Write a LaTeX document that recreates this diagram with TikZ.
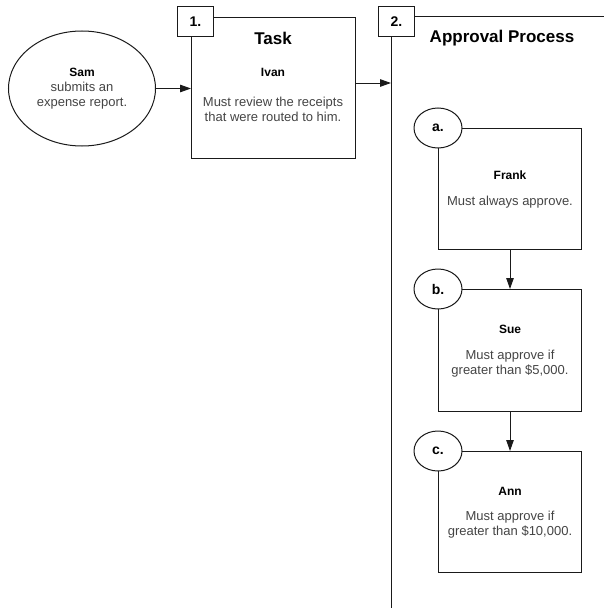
\documentclass[tikz,border=0pt]{standalone}
\usepackage{fontspec}
\setmainfont{Liberation Sans}
\usetikzlibrary{arrows.meta,shapes.geometric}

\definecolor{ink}{HTML}{1A1A1A}
\definecolor{bodytext}{HTML}{444444}

\tikzset{
  edge/.style={draw=ink, line width=1pt},
  flow/.style={edge, -{Triangle[length=11pt,width=7.5pt]}},
  framebox/.style={edge, anchor=north west, inner sep=0pt},
  numbox/.style={edge, fill=white, minimum width=36pt, minimum height=30pt,
    inner sep=0pt, font=\fontsize{14}{16}\selectfont\bfseries},
  letterbadge/.style={edge, ellipse, fill=white, minimum width=48pt,
    minimum height=40pt, inner sep=0pt, font=\fontsize{14}{16}\selectfont\bfseries},
  heading/.style={font=\fontsize{17}{20}\selectfont\bfseries, text=black},
  who/.style={font=\fontsize{12}{14}\selectfont\bfseries, text=black},
  note/.style={font=\fontsize{13}{15}\selectfont, text=bodytext, align=center}
}

\begin{document}
\begin{tikzpicture}[x=1pt,y=-1pt]
\useasboundingbox (0,0) rectangle (604,610);

% submitter
\node[edge, ellipse, minimum width=147pt, minimum height=115pt, inner sep=0pt,
      note] (sam) at (82,88.5)
  {{\fontsize{12}{15}\selectfont\bfseries\color{black}Sam}\\submits an\\expense report.};

% step 1: task
\node[framebox, minimum width=164pt, minimum height=141pt] (task) at (191,17) {};
\node[numbox] (n1) at (195.5,22) {1.};
\node[heading] (tasktitle) at (273,38) {Task};
\node[who] (ivan) at (273,72) {Ivan};
\node[note] (ivannote) at (273,109) {Must review the receipts\\that were routed to him.};

% step 2: approval process lane
\node[numbox] (n2) at (396.5,22) {2.};
\coordinate (lanetopend) at (604,17);
\coordinate (lanebottom) at (391,608);
\draw[edge] (n2.east |- lanetopend) -- (lanetopend);
\draw[edge] (n2.south -| lanebottom) -- (lanebottom);
\node[heading] (apptitle) at (502,38) {Approval Process};

% approvers
\node[framebox, minimum width=143pt, minimum height=121pt] (fbox) at (438,128) {};
\node[letterbadge] (la) at (fbox.north west) {a.};
\node[who] (frank) at (510,175) {Frank};
\node[note] (franknote) at (510,202) {Must always approve.};

\node[framebox, minimum width=143pt, minimum height=122pt] (sbox) at (438,289) {};
\node[letterbadge] (lb) at (sbox.north west) {b.};
\node[who] (sue) at (510,329) {Sue};
\node[note] (suenote) at (510,364) {Must approve if\\greater than \$5,000.};

\node[framebox, minimum width=143pt, minimum height=121pt] (abox) at (438,451) {};
\node[letterbadge] (lc) at (abox.north west) {c.};
\node[who] (ann) at (510,491) {Ann};
\node[note] (annnote) at (510,525) {Must approve if\\greater than \$10,000.};

% connectors
\draw[flow] (sam.east) -- (task.west |- sam.east);
\coordinate (lanein) at (391,83);
\draw[flow] (task.east |- lanein) -- (lanein);
\draw[flow] (fbox.south) -- (sbox.north);
\draw[flow] (sbox.south) -- (abox.north);
\end{tikzpicture}
\end{document}
